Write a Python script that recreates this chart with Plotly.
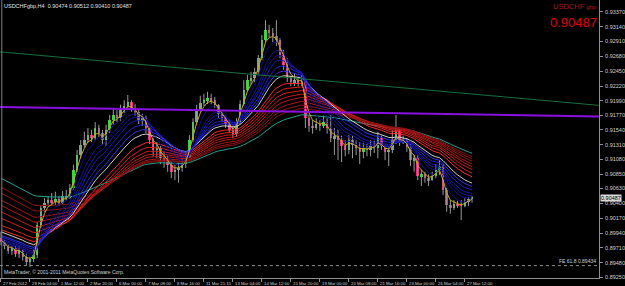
import plotly.graph_objects as go

# ---------------- data ----------------
first_open = 0.8986
close = [
    0.8980, 0.8974, 0.8966, 0.8971, 0.8962, 0.8968, 0.8957, 0.8949, 0.8954, 0.8960,
    0.9006, 0.9033, 0.9041, 0.9045, 0.9042, 0.9047, 0.9041, 0.9051, 0.9048, 0.9064,
    0.9092, 0.9115, 0.9131, 0.9138, 0.9146, 0.9141, 0.9157, 0.9149, 0.9138, 0.9154,
    0.9169, 0.9177, 0.9172, 0.9185, 0.9191, 0.9197, 0.9188, 0.9182, 0.9169, 0.9172,
    0.9157, 0.9138, 0.9123, 0.9126, 0.9110, 0.9107, 0.9100, 0.9089, 0.9092, 0.9095,
    0.9101, 0.9112, 0.9138, 0.9166, 0.9185, 0.9196, 0.9200, 0.9203, 0.9200, 0.9193,
    0.9179, 0.9172, 0.9163, 0.9154, 0.9148, 0.9166, 0.9194, 0.9216, 0.9231, 0.9234,
    0.9244, 0.9265, 0.9293, 0.9309, 0.9304, 0.9300, 0.9293, 0.9270, 0.9255, 0.9236,
    0.9228, 0.9231, 0.9225, 0.9230, 0.9172, 0.9160, 0.9157, 0.9163, 0.9160, 0.9166,
    0.9157, 0.9141, 0.9144, 0.9138, 0.9129, 0.9123, 0.9138, 0.9131, 0.9126, 0.9120,
    0.9126, 0.9123, 0.9129, 0.9126, 0.9141, 0.9129, 0.9120, 0.9123, 0.9138, 0.9154,
    0.9135, 0.9137, 0.9127, 0.9107, 0.9110, 0.9082, 0.9085, 0.9079, 0.9076, 0.9082,
    0.9092, 0.9096, 0.9061, 0.9037, 0.9033, 0.9039, 0.9037, 0.9036, 0.9042, 0.90474,
    0.90487]
high = [
    0.8996, 0.8983, 0.8977, 0.8974, 0.8974, 0.8974, 0.8969, 0.8962, 0.8957, 0.8968,
    0.9011, 0.9037, 0.9048, 0.9051, 0.9056, 0.9058, 0.9051, 0.9059, 0.9061, 0.9070,
    0.9100, 0.9123, 0.9138, 0.9151, 0.9157, 0.9154, 0.9166, 0.9162, 0.9154, 0.9162,
    0.9177, 0.9188, 0.9185, 0.9193, 0.9200, 0.9208, 0.9200, 0.9194, 0.9185, 0.9179,
    0.9176, 0.9160, 0.9141, 0.9135, 0.9129, 0.9120, 0.9115, 0.9107, 0.9100, 0.9103,
    0.9110, 0.9118, 0.9146, 0.9172, 0.9193, 0.9207, 0.9210, 0.9213, 0.9210, 0.9205,
    0.9194, 0.9182, 0.9177, 0.9169, 0.9160, 0.9172, 0.9200, 0.9231, 0.9239, 0.9244,
    0.9250, 0.9270, 0.9301, 0.9324, 0.9317, 0.9312, 0.9324, 0.9296, 0.9278, 0.9265,
    0.9238, 0.9241, 0.9236, 0.9239, 0.9231, 0.9177, 0.9169, 0.9172, 0.9169, 0.9176,
    0.9172, 0.9177, 0.9157, 0.9154, 0.9145, 0.9138, 0.9146, 0.9145, 0.9138, 0.9135,
    0.9134, 0.9132, 0.9138, 0.9137, 0.9151, 0.9145, 0.9131, 0.9129, 0.9154, 0.9177,
    0.9157, 0.9145, 0.9141, 0.9132, 0.9115, 0.9115, 0.9092, 0.9089, 0.9085, 0.9089,
    0.9101, 0.9107, 0.9101, 0.9064, 0.9045, 0.9045, 0.9044, 0.9045, 0.9048, 0.9050,
    0.90512]
low = [
    0.8975, 0.8969, 0.8962, 0.8960, 0.8957, 0.8955, 0.8951, 0.8944, 0.8941, 0.8949,
    0.8955, 0.9002, 0.9027, 0.9036, 0.9036, 0.9037, 0.9036, 0.9039, 0.9044, 0.9047,
    0.9061, 0.9089, 0.9110, 0.9126, 0.9134, 0.9135, 0.9138, 0.9143, 0.9131, 0.9129,
    0.9149, 0.9162, 0.9166, 0.9168, 0.9180, 0.9185, 0.9182, 0.9176, 0.9163, 0.9160,
    0.9149, 0.9132, 0.9113, 0.9110, 0.9101, 0.9095, 0.9089, 0.9079, 0.9076, 0.9072,
    0.9089, 0.9095, 0.9110, 0.9135, 0.9162, 0.9182, 0.9191, 0.9194, 0.9194, 0.9188,
    0.9172, 0.9166, 0.9157, 0.9149, 0.9141, 0.9143, 0.9163, 0.9191, 0.9213, 0.9224,
    0.9228, 0.9239, 0.9262, 0.9290, 0.9297, 0.9290, 0.9284, 0.9265, 0.9247, 0.9228,
    0.9222, 0.9222, 0.9221, 0.9222, 0.9157, 0.9151, 0.9148, 0.9154, 0.9152, 0.9157,
    0.9148, 0.9135, 0.9115, 0.9107, 0.9104, 0.9113, 0.9116, 0.9110, 0.9115, 0.9101,
    0.9110, 0.9113, 0.9113, 0.9118, 0.9110, 0.9123, 0.9107, 0.9098, 0.9118, 0.9132,
    0.9129, 0.9132, 0.9120, 0.9098, 0.9089, 0.9076, 0.9067, 0.9072, 0.9067, 0.9075,
    0.9079, 0.9084, 0.9053, 0.9027, 0.9024, 0.9030, 0.9033, 0.9014, 0.9034, 0.9036,
    0.90410]

date_labels = ["27 Feb 2012", "29 Feb 04:00", "1 Mar 12:00", "2 Mar 20:00",
               "6 Mar 00:00", "7 Mar 08:00", "8 Mar 16:00", "11 Mar 21:15",
               "13 Mar 04:00", "14 Mar 12:00", "15 Mar 20:00", "19 Mar 00:00",
               "20 Mar 08:00", "21 Mar 16:00", "23 Mar 00:00", "26 Mar 04:00",
               "27 Mar 12:00"]
date_label_bars = [0, 8, 16, 24, 32, 40, 48, 56, 64, 72, 80, 88, 96, 104, 112, 120, 128]

price_ticks = [0.89250, 0.89480, 0.89710, 0.89940, 0.90170, 0.90400, 0.90630,
               0.90850, 0.91080, 0.91310, 0.91540, 0.91770, 0.91990, 0.92220,
               0.92450, 0.92680, 0.92910, 0.93140, 0.93370]

# moving-average lines: periods and their values at the first visible bar
yellow_period, yellow_seed = 3, 0.8983
blue_periods = [5, 8, 10, 12, 15, 18]
blue_seeds = [0.8978, 0.8981, 0.8983, 0.8985, 0.8988, 0.8990]
white_period, white_seed = 21, 0.8996
red_periods = [27, 31, 35, 39, 43, 48, 53, 58]
red_seeds = [0.8999, 0.9006, 0.9017, 0.9027, 0.9037, 0.9045, 0.9056, 0.9065]
teal_period, teal_seed = 70, 0.9079

trend_bars, trend_prices = [-0.3, 165.0], [0.9275, 0.9192]
purple_bars, purple_prices = [-0.3, 165.0], [0.91894, 0.91747]
fe_level = 0.89434
last_price = 0.90487
header = "USDCHFgbp,H4  0.90474 0.90512 0.90410 0.90487"

# ---------------- derived ----------------
n = len(close)
bars = list(range(n))
opens = [first_open] + close[:-1]


def ema(period, seed):
    a = 2.0 / (period + 1)
    out = [seed]
    for c in close[1:]:
        out.append(out[-1] + a * (c - out[-1]))
    return out


fig = go.Figure()

# wicks
wx, wy = [], []
for i in bars:
    wx += [i, i, None]
    wy += [low[i], high[i], None]
fig.add_trace(go.Scatter(x=wx, y=wy, mode="lines",
                         line=dict(color="#9a9a9a", width=1), hoverinfo="skip"))

# bodies
base = [min(o, c) for o, c in zip(opens, close)]
hgt = [max(abs(c - o), 0.00003) for o, c in zip(opens, close)]
cols = ["#3ad43a" if c >= o else "#e82a7c" for o, c in zip(opens, close)]
fig.add_trace(go.Bar(x=bars, y=hgt, base=base, marker_color=cols,
                     marker_line_width=0, width=0.68, hoverinfo="skip"))

# lines
fig.add_trace(go.Scatter(x=bars, y=ema(teal_period, teal_seed), mode="lines",
                         line=dict(color="#1fa090", width=1)))
red_cols = ["#ff2a2a", "#e82020", "#d41c1c", "#c81818", "#b81616", "#a81414",
            "#981212", "#8a1010"]
for p, s, c in zip(red_periods, red_seeds, red_cols):
    fig.add_trace(go.Scatter(x=bars, y=ema(p, s), mode="lines",
                             line=dict(color=c, width=1)))
fig.add_trace(go.Scatter(x=bars, y=ema(white_period, white_seed), mode="lines",
                         line=dict(color="#d0d0d0", width=1)))
blue_cols = ["#10108a", "#121296", "#1414a6", "#1818b8", "#2020d0", "#3030f0"]
for p, s, c in zip(blue_periods, blue_seeds, blue_cols):
    fig.add_trace(go.Scatter(x=bars, y=ema(p, s), mode="lines",
                             line=dict(color=c, width=1)))
fig.add_trace(go.Scatter(x=bars, y=ema(yellow_period, yellow_seed), mode="lines",
                         line=dict(color="#c8a818", width=1)))

fig.add_trace(go.Scatter(x=trend_bars, y=trend_prices, mode="lines",
                         line=dict(color="#17703c", width=1)))
fig.add_trace(go.Scatter(x=purple_bars, y=purple_prices, mode="lines",
                         line=dict(color="#8a10e0", width=2)))
fig.add_trace(go.Scatter(x=[-0.3, 165.0], y=[fe_level, fe_level], mode="lines",
                         line=dict(color="#909090", width=1, dash="dot")))

annotations = []
for b, t in zip(date_label_bars, date_labels):
    annotations.append(dict(x=b, y=0, xref="x", yref="paper", text=t,
                             showarrow=False, xanchor="left", yanchor="top",
                             xshift=0, yshift=-1,
                             font=dict(size=4.3, color="#d0d0d0",
                                       family="Liberation Sans")))
annotations += [
    dict(x=0, y=1, xref="paper", yref="paper", text=header, showarrow=False,
         xanchor="left", yanchor="top", xshift=2, yshift=-1,
         font=dict(size=5.5, color="#e0e0e0", family="Liberation Sans")),
    dict(x=1, y=1, xref="paper", yref="paper",
         text="USDCHF <span style='font-size:6px'>gbp</span>",
         showarrow=False, xanchor="right", yanchor="top", yshift=0,
         font=dict(size=7.5, color="#b01818", family="Liberation Sans")),
    dict(x=1, y=1, xref="paper", yref="paper", text="0.90487",
         showarrow=False, xanchor="right", yanchor="top", yshift=-13,
         font=dict(size=13, color="#e00000", family="Liberation Sans")),
    dict(x=0, y=0, xref="paper", yref="paper",
         text="MetaTrader, © 2001-2011 MetaQuotes Software Corp.",
         showarrow=False, xanchor="left", yanchor="bottom", xshift=2, yshift=1,
         font=dict(size=5, color="#d0d0d0", family="Liberation Sans")),
    dict(x=1, y=fe_level, xref="paper", yref="y", text="FE 61.8 0.89434",
         showarrow=False, xanchor="right", yanchor="bottom", xshift=-1, yshift=0,
         font=dict(size=5, color="#d0d0d0", family="Liberation Sans")),
    dict(x=1, y=last_price, xref="paper", yref="y", text="%.5f" % last_price,
         showarrow=False, xanchor="left", yanchor="middle", xshift=1,
         bgcolor="#d8d8d8", borderpad=0,
         font=dict(size=5.5, color="#000000", family="Liberation Sans")),
]

fig.update_layout(
    width=625, height=286,
    margin=dict(l=0, r=18, t=0, b=8),
    paper_bgcolor="#000000", plot_bgcolor="#000000",
    showlegend=False, bargap=0,
    xaxis=dict(range=[-0.272, 165.03], showgrid=False, zeroline=False,
               showticklabels=False, showline=True, linecolor="#909090",
               linewidth=1, ticks="outside", ticklen=3, tickcolor="#909090",
               tickvals=date_label_bars),
    yaxis=dict(range=[0.89242, 0.93554], side="right", showgrid=False,
               zeroline=False, showline=True, linecolor="#909090", linewidth=1,
               ticks="outside", ticklen=3, tickcolor="#909090",
               tickvals=price_ticks, ticktext=["%.5f" % v for v in price_ticks],
               ticklabelstandoff=1,
               tickfont=dict(size=5.5, color="#d0d0d0", family="Liberation Sans")),
    annotations=annotations,
    shapes=[dict(type="line", xref="paper", yref="paper", x0=0.003, x1=0.003,
                 y0=0, y1=1, line=dict(color="#808080", width=1))],
)

fig.write_html("out.html")
